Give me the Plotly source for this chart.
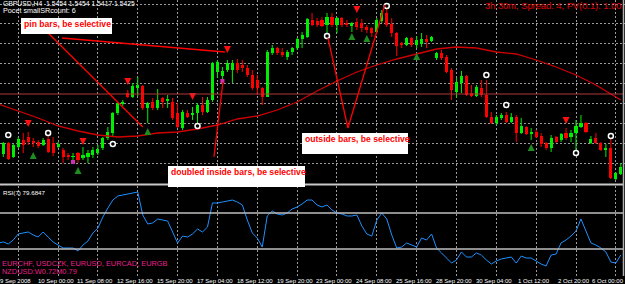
import plotly.graph_objects as go

W, H = 625, 284

# ---------------- data ----------------
bar_idx = list(range(-1, 125))
open_ = [1.5479,1.5457,1.5479,1.5451,1.5471,1.5485,1.5491,1.5483,1.5481,1.5475,1.5487,1.5479,1.5471,1.5465,1.5455,1.5451,1.5459,1.5449,1.5451,1.5455,1.5459,1.5469,1.5489,1.5499,1.5539,1.5557,
         1.5579,1.5571,1.5589,1.5593,1.5549,1.5561,1.5549,1.5569,1.5563,1.5561,1.5539,1.5509,1.5539,1.5535,1.5539,1.5555,1.5541,1.5565,1.5621,1.5613,1.5625,1.5625,1.5639,1.5635,1.5629,
         1.5615,1.5605,1.5589,1.5571,1.5659,1.5669,1.5661,1.5651,1.5661,1.5669,1.5687,1.5691,1.5725,1.5723,1.5725,1.5715,1.5731,1.5715,1.5729,1.5719,1.5713,1.5721,1.5719,1.5711,1.5709,
         1.5701,1.5723,1.5739,1.5717,1.5699,1.5679,1.5675,1.5689,1.5675,1.5677,1.5687,1.5683,1.5649,1.5659,1.5651,1.5625,1.5581,1.5599,1.5613,1.5579,1.5573,1.5589,1.5575,1.5531,1.5519,
         1.5529,1.5535,1.5521,1.5531,1.5499,1.5511,1.5497,1.5501,1.5493,1.5479,1.5469,1.5491,1.5485,1.5499,1.5491,1.5499,1.5511,1.5519,1.5479,1.5489,1.5479,1.5465,1.5469,1.5407,1.5417]
high = [1.5483,1.5481,1.5481,1.5477,1.5491,1.5499,1.5501,1.5489,1.5485,1.5489,1.5495,1.5491,1.5481,1.5469,1.5459,1.5459,1.5461,1.5471,1.5465,1.5471,1.5475,1.5491,1.5511,1.5541,1.5561,1.5565,
        1.5585,1.5599,1.5611,1.5595,1.5561,1.5569,1.5587,1.5571,1.5575,1.5569,1.5559,1.5545,1.5545,1.5551,1.5559,1.5571,1.5571,1.5641,1.5645,1.5631,1.5645,1.5645,1.5647,1.5645,1.5635,
        1.5625,1.5615,1.5591,1.5665,1.5675,1.5671,1.5669,1.5665,1.5671,1.5689,1.5701,1.5729,1.5739,1.5729,1.5731,1.5739,1.5739,1.5731,1.5731,1.5725,1.5721,1.5729,1.5727,1.5715,1.5711,
        1.5729,1.5745,1.5749,1.5729,1.5701,1.5681,1.5691,1.5691,1.5693,1.5699,1.5695,1.5693,1.5661,1.5665,1.5655,1.5629,1.5609,1.5623,1.5615,1.5595,1.5595,1.5605,1.5605,1.5541,1.5535,
        1.5539,1.5541,1.5539,1.5535,1.5529,1.5513,1.5509,1.5505,1.5499,1.5481,1.5495,1.5493,1.5499,1.5509,1.5505,1.5525,1.5535,1.5521,1.5493,1.5499,1.5481,1.5477,1.5489,1.5421,1.5439]
low = [1.5455,1.5451,1.5445,1.5449,1.5469,1.5459,1.5475,1.5471,1.5469,1.5473,1.5459,1.5453,1.5469,1.5439,1.5445,1.5441,1.5439,1.5445,1.5439,1.5449,1.5455,1.5465,1.5485,1.5491,1.5535,1.5553,
       1.5569,1.5569,1.5573,1.5545,1.5519,1.5545,1.5545,1.5549,1.5549,1.5525,1.5509,1.5505,1.5529,1.5525,1.5519,1.5535,1.5539,1.5561,1.5609,1.5599,1.5621,1.5599,1.5619,1.5621,1.5611,
       1.5585,1.5575,1.5555,1.5571,1.5655,1.5655,1.5651,1.5645,1.5655,1.5665,1.5669,1.5689,1.5713,1.5711,1.5711,1.5695,1.5711,1.5699,1.5711,1.5711,1.5701,1.5705,1.5701,1.5699,1.5691,
       1.5699,1.5719,1.5711,1.5691,1.5653,1.5669,1.5673,1.5671,1.5669,1.5671,1.5669,1.5681,1.5645,1.5645,1.5619,1.5565,1.5569,1.5579,1.5573,1.5571,1.5571,1.5571,1.5529,1.5517,1.5515,
       1.5525,1.5519,1.5519,1.5481,1.5497,1.5495,1.5485,1.5489,1.5471,1.5465,1.5461,1.5479,1.5481,1.5485,1.5481,1.5461,1.5509,1.5499,1.5477,1.5477,1.5463,1.5451,1.5407,1.5405,1.5415]
close = [1.5459,1.5479,1.5447,1.5475,1.5487,1.5475,1.5481,1.5479,1.5473,1.5485,1.5461,1.5459,1.5477,1.5451,1.5451,1.5453,1.5445,1.5455,1.5459,1.5465,1.5467,1.5489,1.5501,1.5539,1.5559,1.5561,
         1.5571,1.5593,1.5595,1.5549,1.5559,1.5549,1.5565,1.5561,1.5567,1.5529,1.5511,1.5541,1.5531,1.5539,1.5555,1.5541,1.5565,1.5639,1.5641,1.5623,1.5639,1.5639,1.5625,1.5629,1.5615,
         1.5589,1.5589,1.5571,1.5661,1.5669,1.5659,1.5655,1.5661,1.5669,1.5687,1.5695,1.5727,1.5715,1.5715,1.5713,1.5731,1.5715,1.5729,1.5715,1.5715,1.5719,1.5711,1.5709,1.5705,1.5699,
         1.5725,1.5739,1.5715,1.5699,1.5673,1.5675,1.5689,1.5675,1.5685,1.5687,1.5681,1.5691,1.5659,1.5649,1.5621,1.5585,1.5601,1.5613,1.5575,1.5573,1.5591,1.5575,1.5531,1.5519,1.5531,
         1.5535,1.5521,1.5531,1.5499,1.5513,1.5497,1.5501,1.5491,1.5477,1.5469,1.5489,1.5481,1.5497,1.5489,1.5499,1.5513,1.5519,1.5501,1.5487,1.5479,1.5465,1.5469,1.5409,1.5419,1.5431]

ma_idx = [-1, 3, 7, 11, 15, 19, 23, 27, 31, 35, 39, 43, 47, 51, 55, 59, 63, 67, 71, 75, 79, 83, 87, 91, 95, 99, 103, 107, 111, 115, 119, 123, 124]
ma_val = [1.5557,1.5543,1.5529,1.5513,1.5503,1.5495,1.5491,1.5493,1.5499,1.5501,1.5507,1.5515,1.5527,1.5533,1.5545,1.5561,1.5583,1.5603,1.5621,
          1.5635,1.5647,1.5657,1.5667,1.5671,1.5669,1.5661,1.5657,1.5645,1.5631,1.5615,1.5595,1.5571,1.5565]

rsi = [36.7,37.8,35.6,40.0,46.7,47.8,48.9,45.6,43.3,48.9,43.3,37.8,34.4,31.1,31.1,31.1,27.8,34.4,38.9,47.8,53.3,65.6,75.6,84.4,88.9,90.0,
       91.1,92.2,93.3,67.8,57.8,58.9,63.3,62.2,61.1,48.9,36.7,44.4,43.3,46.7,52.2,48.9,54.4,81.1,81.1,82.2,83.3,84.4,82.2,78.9,62.2,
       47.8,42.2,32.2,66.7,72.2,68.9,67.8,70.0,74.4,76.7,80.0,84.4,84.4,78.9,76.7,78.9,73.3,70.0,68.9,66.7,66.7,67.8,55.6,46.7,44.4,
       62.2,70.0,63.3,45.6,31.1,32.2,36.7,34.4,32.2,42.2,40.0,46.7,31.1,25.6,20.0,14.4,17.8,26.7,21.1,21.1,25.6,23.3,17.8,13.3,16.7,
       18.9,20.0,21.1,14.4,22.2,20.0,20.0,16.7,13.3,11.1,23.3,24.4,36.7,40.0,44.4,50.0,63.3,50.0,36.7,34.4,31.1,26.7,15.6,14.4,23.3]
rsi_levels = [70, 30]

circle_idx = [1, 9, 22, 39, 65, 77, 97, 101, 115, 122]
circle_val = [1.5495, 1.5499, 1.5477, 1.5513, 1.5693, 1.5753, 1.5615, 1.5555, 1.5459, 1.5493]
down_idx = [5, 16, 25, 38, 45, 71, 113]
down_val = [1.5511, 1.5475, 1.5595, 1.5565, 1.5659, 1.5739, 1.5517]
up_idx = [6, 15, 29, 70, 73, 83, 106]
up_val = [1.5461, 1.5431, 1.5509, 1.5699, 1.5695, 1.5659, 1.5477]
flag_idx = [14, 44]
flag_val = [1.5441, 1.5603]

hline_price = 1.5577

# trend-line objects (bar index, price)
trend_lines = [
    [(9.0, 1.5699), (28.0, 1.5511)],
    [(11.8, 1.5689), (44.5, 1.5661)],
    [(42.3, 1.5451), (44.1, 1.5601)],
    [(65.2, 1.5689), (69.2, 1.5509), (76.6, 1.5755)],
]

tick_idx = [3, 11, 19, 27, 35, 43, 51, 59, 67, 75, 83, 91, 99, 107, 115, 123]
tick_text = ["9 Sep 2008", "10 Sep 00:00", "11 Sep 08:00", "12 Sep 16:00", "15 Sep 20:00", "17 Sep 04:00",
             "18 Sep 12:00", "19 Sep 20:00", "23 Sep 00:00", "24 Sep 08:00", "25 Sep 16:00", "28 Sep 20:00",
             "30 Sep 04:00", "1 Oct 12:00", "2 Oct 20:00", "6 Oct 00:00"]

# ---------------- figure ----------------
BULL = "#00EE00"
BEAR = "#FF0000"
FONT = "Liberation Sans"

def py(p):  # pixel row -> paper y
    return 1 - p / H

def px(p):
    return p / W

fig = go.Figure()

up = [i for i in range(len(bar_idx)) if close[i] >= open_[i]]
dn = [i for i in range(len(bar_idx)) if close[i] < open_[i]]

for sel, col in ((up, BULL), (dn, BEAR)):
    wx, wy = [], []
    for i in sel:
        wx += [bar_idx[i], bar_idx[i], None]
        wy += [low[i], high[i], None]
    fig.add_trace(go.Scatter(x=wx, y=wy, mode="lines", line=dict(color=col, width=1),
                             hoverinfo="skip", showlegend=False, xaxis="x", yaxis="y"))
    fig.add_trace(go.Bar(x=[bar_idx[i] for i in sel],
                         y=[close[i] - open_[i] for i in sel],
                         base=[open_[i] for i in sel],
                         width=0.62, marker=dict(color=col, line=dict(width=0)),
                         showlegend=False, xaxis="x", yaxis="y"))

# moving average
fig.add_trace(go.Scatter(x=ma_idx, y=ma_val, mode="lines", line=dict(color="#D00000", width=1.3),
                         showlegend=False, xaxis="x", yaxis="y"))

# markers
fig.add_trace(go.Scatter(x=circle_idx, y=circle_val, mode="markers",
                         marker=dict(symbol="circle", size=5, color="#000000", line=dict(color="#FFFFFF", width=1.5)),
                         showlegend=False, xaxis="x", yaxis="y"))
fig.add_trace(go.Scatter(x=down_idx, y=down_val, mode="markers",
                         marker=dict(symbol="arrow-down", size=7, color="#FF1010", line=dict(width=0)),
                         showlegend=False, xaxis="x", yaxis="y"))
fig.add_trace(go.Scatter(x=up_idx, y=up_val, mode="markers",
                         marker=dict(symbol="arrow-up", size=7, color="#1E8C1E", line=dict(width=0)),
                         showlegend=False, xaxis="x", yaxis="y"))
fig.add_trace(go.Scatter(x=flag_idx, y=flag_val, mode="markers",
                         marker=dict(symbol="square", size=4, color="#D030B0", line=dict(width=0)),
                         showlegend=False, xaxis="x", yaxis="y"))

# RSI
fig.add_trace(go.Scatter(x=bar_idx, y=rsi, mode="lines", line=dict(color="#1E90FF", width=1),
                         showlegend=False, xaxis="x2", yaxis="y2"))

shapes = []
# horizontal line object
shapes.append(dict(type="line", xref="paper", yref="y", x0=0, x1=623.5 / W, y0=hline_price, y1=hline_price,
                   line=dict(color="#B03838", width=1), layer="above"))
# rsi level lines
for lv in rsi_levels:
    shapes.append(dict(type="line", xref="paper", yref="y2", x0=0, x1=623.5 / W, y0=lv, y1=lv,
                       line=dict(color="#BEBEBE", width=1.5), layer="above"))
# pane separator and right border
shapes.append(dict(type="line", xref="paper", yref="paper", x0=0, x1=623.5 / W, y0=py(184.5), y1=py(184.5),
                   line=dict(color="#C8C8C8", width=2), layer="above"))
shapes.append(dict(type="line", xref="paper", yref="paper", x0=px(623.5), x1=px(623.5), y0=py(276), y1=1,
                   line=dict(color="#B0B0B0", width=1.5), layer="above"))
# trend lines
for pts in trend_lines:
    for (a, b) in zip(pts[:-1], pts[1:]):
        shapes.append(dict(type="line", xref="x", yref="y", x0=a[0], y0=a[1], x1=b[0], y1=b[1],
                           line=dict(color="#FF0000", width=1.3), layer="above"))
# text label boxes
boxes = [
    (21, 18, 112, 34, "pin bars, be selective", 22.5, 24.5),
    (168, 166, 305, 187, "doubled inside bars, be selective", 169.5, 172),
    (302, 133, 408, 154, "outside bars, be selective", 303.5, 139),
]
annotations = []
for (x0, y0, x1, y1, txt, tx, ty) in boxes:
    shapes.append(dict(type="rect", xref="paper", yref="paper", x0=px(x0), x1=px(x1), y0=py(y1), y1=py(y0),
                       fillcolor="#FFFFFF", line=dict(width=0), layer="above"))
    annotations.append(dict(text=txt, xref="paper", yref="paper", x=px(tx), y=py(ty), xanchor="left",
                            yanchor="middle", showarrow=False, borderpad=0,
                            font=dict(family=FONT, size=8.6, color="#FF0000", weight="bold")))

def label(txt, x, y, size, color, anchor="left"):
    annotations.append(dict(text=txt, xref="paper", yref="paper", x=px(x), y=py(y), xanchor=anchor,
                            yanchor="middle", showarrow=False, borderpad=0,
                            font=dict(family=FONT, size=size, color=color)))

label("GBPUSD,H4  1.5454 1.5454 1.5417 1.5425", 1.5, 3.2, 6.8, "#FFFFFF")
label("Pocet smallSRcount: 6", 1.5, 11, 7.2, "#FFFFFF")
label("3h 30m, Spread: 4, PV(0.1): 1.00", 622, 6, 9.3, "#E00000", anchor="right")
label("RSI(7) 79.6847", 1.5, 192, 6.2, "#FFFFFF")
label("EURCHF, USDCZK, EURUSD, EURCAD, EURGB", 0.5, 263.3, 7.4, "#E8208C")
label("NZDUSD:W0.72M0.79", 0.5, 271.2, 7.4, "#E8208C")

for k, t in zip(tick_idx, tick_text):
    if k == tick_idx[-1]:
        annotations.append(dict(text=t, xref="paper", yref="paper", x=px(624.5), y=py(281), xanchor="right",
                                yanchor="middle", showarrow=False, borderpad=0,
                                font=dict(family=FONT, size=6.0, color="#FFFFFF")))
    else:
        annotations.append(dict(text=t, xref="x", yref="paper", x=k - 0.5, y=py(281), xanchor="center",
                                yanchor="middle", showarrow=False, borderpad=0,
                                font=dict(family=FONT, size=6.0, color="#FFFFFF")))

x_range = [-0.663, 124.84]
grid = dict(showgrid=True, gridcolor="#9A9A9A", griddash="2px,2px", gridwidth=1)

fig.update_layout(
    width=W, height=H, margin=dict(l=0, r=0, t=0, b=0),
    paper_bgcolor="#000000", plot_bgcolor="#000000",
    barmode="overlay", bargap=0, showlegend=False,
    shapes=shapes, annotations=annotations,
    xaxis=dict(domain=[0, 1], range=x_range, tickmode="linear", tick0=3, dtick=8,
               showticklabels=False, zeroline=False, showline=False, anchor="y", **grid),
    xaxis2=dict(domain=[0, 1], range=x_range, tickmode="linear", tick0=3, dtick=8, matches="x",
                showticklabels=False, zeroline=False, showline=False, anchor="y2", **grid),
    yaxis=dict(domain=[py(184), 1], range=[1.5397, 1.5765], tickmode="linear", tick0=1.5757, dtick=0.00398,
               showticklabels=False, zeroline=False, showline=False, **grid),
    yaxis2=dict(domain=[py(276), py(186)], range=[0, 100], showgrid=False,
                showticklabels=False, zeroline=False, showline=False),
)

fig.write_html("out.html")
